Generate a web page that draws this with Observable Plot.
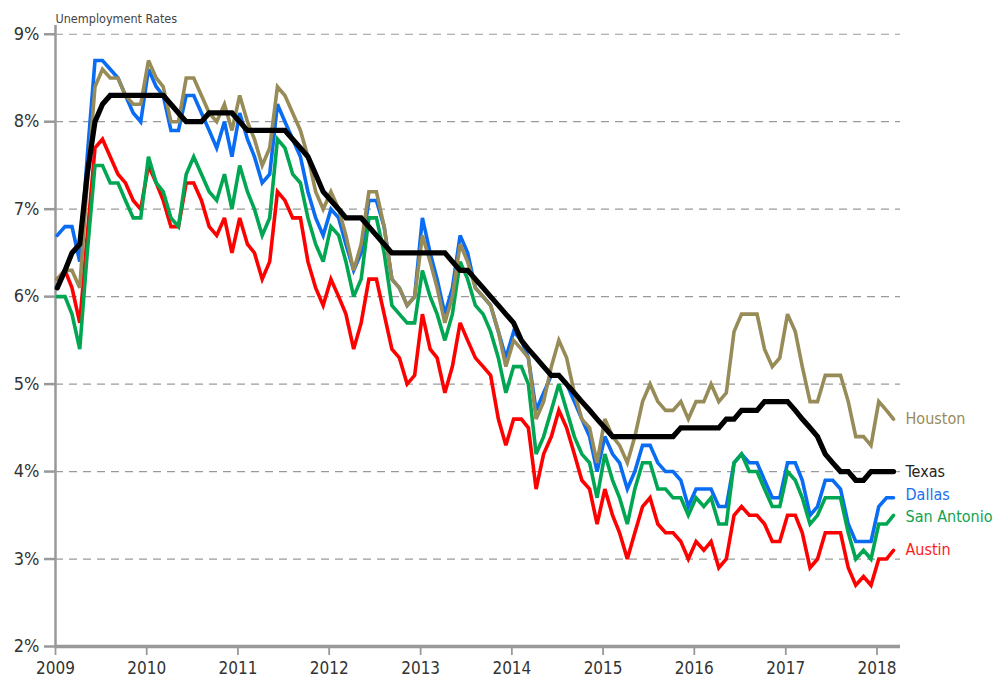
<!DOCTYPE html>
<html>
<head>
<meta charset="utf-8">
<script src="https://cdn.jsdelivr.net/npm/d3@7"></script>
<script src="https://cdn.jsdelivr.net/npm/@observablehq/plot@0.6"></script>
<style>
  body { margin: 0; background: #fff; }
  #chart svg { font-family: "Liberation Sans Narrow", "DejaVu Sans Condensed", "Liberation Sans", Arial, sans-serif; }
</style>
</head>
<body>
<div id="chart"></div>
<script>
// Monthly unemployment rates, Jan 2009 – Mar 2018 (percent)
const startYear = 2009;
const yTicks = [2, 3, 4, 5, 6, 7, 8, 9];
const yearTicks = [2009, 2010, 2011, 2012, 2013, 2014, 2015, 2016, 2017, 2018];

const houston = [
  6.2, 6.3, 6.3, 6.1, 7.3, 8.4, 8.6, 8.5, 8.5, 8.3, 8.2, 8.2,
  8.7, 8.5, 8.4, 8.0, 8.0, 8.5, 8.5, 8.3, 8.1, 8.0, 8.2, 7.9,
  8.3, 8.0, 7.8, 7.5, 7.7, 8.4, 8.3, 8.1, 7.9, 7.6, 7.2, 7.0,
  7.2, 7.0, 6.7, 6.3, 6.6, 7.2, 7.2, 6.8, 6.2, 6.1, 5.9, 6.0,
  6.7, 6.4, 6.1, 5.7, 6.0, 6.6, 6.4, 6.1, 6.0, 5.9, 5.6, 5.2,
  5.5, 5.4, 5.3, 4.6, 4.8, 5.2, 5.5, 5.3, 4.9, 4.6, 4.5, 4.1,
  4.6, 4.4, 4.3, 4.1, 4.4, 4.8, 5.0, 4.8, 4.7, 4.7, 4.8, 4.6,
  4.8, 4.8, 5.0, 4.8, 4.9, 5.6, 5.8, 5.8, 5.8, 5.4, 5.2, 5.3,
  5.8, 5.6, 5.2, 4.8, 4.8, 5.1, 5.1, 5.1, 4.8, 4.4, 4.4, 4.3,
  4.8, 4.7, 4.6
];
const texas = [
  6.1, 6.3, 6.5, 6.6, 7.4, 8.0, 8.2, 8.3, 8.3, 8.3, 8.3, 8.3,
  8.3, 8.3, 8.3, 8.2, 8.1, 8.0, 8.0, 8.0, 8.1, 8.1, 8.1, 8.1,
  8.0, 7.9, 7.9, 7.9, 7.9, 7.9, 7.9, 7.8, 7.7, 7.6, 7.4, 7.2,
  7.1, 7.0, 6.9, 6.9, 6.9, 6.8, 6.7, 6.6, 6.5, 6.5, 6.5, 6.5,
  6.5, 6.5, 6.5, 6.5, 6.4, 6.3, 6.3, 6.2, 6.1, 6.0, 5.9, 5.8,
  5.7, 5.5, 5.4, 5.3, 5.2, 5.1, 5.1, 5.0, 4.9, 4.8, 4.7, 4.6,
  4.5, 4.4, 4.4, 4.4, 4.4, 4.4, 4.4, 4.4, 4.4, 4.4, 4.5, 4.5,
  4.5, 4.5, 4.5, 4.5, 4.6, 4.6, 4.7, 4.7, 4.7, 4.8, 4.8, 4.8,
  4.8, 4.7, 4.6, 4.5, 4.4, 4.2, 4.1, 4.0, 4.0, 3.9, 3.9, 4.0,
  4.0, 4.0, 4.0
];
const dallas = [
  6.7, 6.8, 6.8, 6.4, 7.6, 8.7, 8.7, 8.6, 8.5, 8.3, 8.1, 8.0,
  8.6, 8.4, 8.3, 7.9, 7.9, 8.3, 8.3, 8.1, 7.9, 7.7, 8.0, 7.6,
  8.1, 7.8, 7.6, 7.3, 7.4, 8.2, 8.0, 7.8, 7.6, 7.2, 6.9, 6.7,
  7.0, 6.9, 6.6, 6.3, 6.5, 7.1, 7.1, 6.8, 6.2, 6.1, 5.9, 6.0,
  6.9, 6.5, 6.2, 5.8, 6.1, 6.7, 6.5, 6.1, 6.0, 5.9, 5.6, 5.3,
  5.6, 5.5, 5.3, 4.7, 4.9, 5.1, 5.1, 5.0, 4.8, 4.6, 4.4, 4.0,
  4.4, 4.2, 4.1, 3.8, 4.0, 4.3, 4.3, 4.1, 4.0, 4.0, 3.9, 3.6,
  3.8, 3.8, 3.8, 3.6, 3.6, 4.1, 4.2, 4.1, 4.1, 3.9, 3.7, 3.7,
  4.1, 4.1, 3.9, 3.5, 3.6, 3.9, 3.9, 3.8, 3.4, 3.2, 3.2, 3.2,
  3.6, 3.7, 3.7
];
const sanAntonio = [
  6.0, 6.0, 5.8, 5.4, 6.5, 7.5, 7.5, 7.3, 7.3, 7.1, 6.9, 6.9,
  7.6, 7.3, 7.2, 6.9, 6.8, 7.4, 7.6, 7.4, 7.2, 7.1, 7.4, 7.0,
  7.5, 7.2, 7.0, 6.7, 6.9, 7.8, 7.7, 7.4, 7.3, 6.9, 6.6, 6.4,
  6.8, 6.7, 6.4, 6.0, 6.2, 6.9, 6.9, 6.5, 5.9, 5.8, 5.7, 5.7,
  6.3, 6.0, 5.8, 5.5, 5.8, 6.4, 6.2, 5.9, 5.8, 5.6, 5.3, 4.9,
  5.2, 5.2, 5.0, 4.2, 4.4, 4.7, 5.0, 4.7, 4.4, 4.2, 4.1, 3.7,
  4.2, 3.9, 3.7, 3.4, 3.8, 4.1, 4.1, 3.8, 3.8, 3.7, 3.7, 3.5,
  3.7, 3.6, 3.7, 3.4, 3.4, 4.1, 4.2, 4.0, 4.0, 3.8, 3.6, 3.6,
  4.0, 3.9, 3.7, 3.4, 3.5, 3.7, 3.7, 3.7, 3.3, 3.0, 3.1, 3.0,
  3.4, 3.4, 3.5
];
const austin = [
  6.2, 6.3, 6.1, 5.7, 6.7, 7.7, 7.8, 7.6, 7.4, 7.3, 7.1, 7.0,
  7.5, 7.3, 7.1, 6.8, 6.8, 7.3, 7.3, 7.1, 6.8, 6.7, 6.9, 6.5,
  6.9, 6.6, 6.5, 6.2, 6.4, 7.2, 7.1, 6.9, 6.9, 6.4, 6.1, 5.9,
  6.2, 6.0, 5.8, 5.4, 5.7, 6.2, 6.2, 5.8, 5.4, 5.3, 5.0, 5.1,
  5.8, 5.4, 5.3, 4.9, 5.2, 5.7, 5.5, 5.3, 5.2, 5.1, 4.6, 4.3,
  4.6, 4.6, 4.5, 3.8, 4.2, 4.4, 4.7, 4.5, 4.2, 3.9, 3.8, 3.4,
  3.8, 3.5, 3.3, 3.0, 3.3, 3.6, 3.7, 3.4, 3.3, 3.3, 3.2, 3.0,
  3.2, 3.1, 3.2, 2.9, 3.0, 3.5, 3.6, 3.5, 3.5, 3.4, 3.2, 3.2,
  3.5, 3.5, 3.3, 2.9, 3.0, 3.3, 3.3, 3.3, 2.9, 2.7, 2.8, 2.7,
  3.0, 3.0, 3.1
];

// drawing order: bottom to top
const seriesNames  = ["Dallas", "Austin", "San Antonio", "Houston", "Texas"];
const seriesValues = [dallas, austin, sanAntonio, houston, texas];
const seriesColors = ["#0a6cf2", "#ff0000", "#00a651", "#978b58", "#000000"];
const labelColors  = ["#1a6ff0", "#ff1a1a", "#12a24f", "#978b58", "#222222"];
const lineWidths   = [3.6, 3.6, 3.6, 3.6, 5.2];
const labelDy      = [-3, 0, 2, 0, 0];

const toDate = i => new Date(Date.UTC(startYear, i, 8));

const marks = [
  Plot.gridY(yTicks.slice(1), {stroke: "#9a9a9a", strokeOpacity: 1, strokeWidth: 1.2, strokeDasharray: "8,6"}),
  Plot.axisY(yTicks, {tickSize: 11, tickPadding: 5, tickFormat: d => d + "%", fontSize: 18, stroke: "#999", strokeWidth: 2.5, fill: "#333", label: null}),
  Plot.axisX(yearTicks.map(y => new Date(Date.UTC(y, 0, 1))), {tickSize: 9, tickPadding: 6, tickFormat: d => String(d.getUTCFullYear()), fontSize: 17, stroke: "#999", strokeWidth: 1.8, fill: "#333", label: null}),
  Plot.ruleY([yTicks[0]], {stroke: "#999", strokeWidth: 3.5}),
  Plot.ruleX([new Date(Date.UTC(startYear, 0, 1))], {stroke: "#999", strokeWidth: 2.5})
];

seriesNames.forEach((name, k) => {
  const rows = seriesValues[k].map((v, i) => ({name, date: toDate(i), value: v}));
  marks.push(Plot.line(rows, {x: "date", y: "value", stroke: seriesColors[k], strokeWidth: lineWidths[k], strokeLinejoin: "miter", strokeMiterlimit: 3}));
  marks.push(Plot.text(rows, Plot.selectLast({x: "date", y: "value", text: "name", fill: labelColors[k], dx: 12, dy: labelDy[k], textAnchor: "start", fontSize: 16})));
});

marks.push(Plot.text(["Unemployment Rates"], {frameAnchor: "top-left", dy: -11, textAnchor: "start", fontSize: 12.5, fill: "#444"}));

const chart = Plot.plot({
  width: 1007,
  height: 684,
  marginLeft: 55,
  marginRight: 107,
  marginTop: 25,
  marginBottom: 38,
  x: {type: "utc", domain: [new Date(Date.UTC(2009, 0, 1)), new Date(Date.UTC(2018, 3, 5))]},
  y: {domain: [2, 9.1]},
  marks
});
document.getElementById("chart").appendChild(chart);
</script>
</body>
</html>
